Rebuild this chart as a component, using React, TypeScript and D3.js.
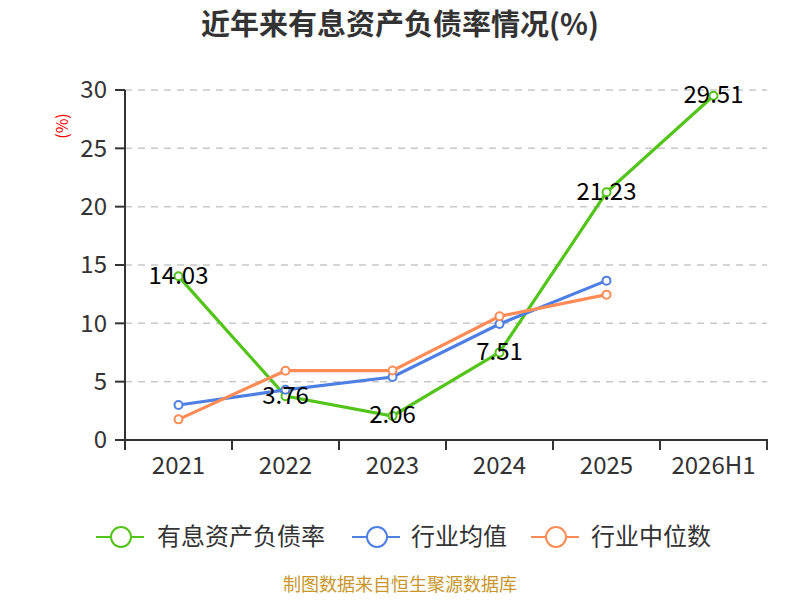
import React from "react";
import * as d3 from "d3";

const categories = ["2021", "2022", "2023", "2024", "2025", "2026H1"];
const debtRatio = [14.03, 3.76, 2.06, 7.51, 21.23, 29.51];
const industryAvg = [3.0, 4.3, 5.4, 9.94, 13.66];
const industryMedian = [1.77, 5.94, 5.95, 10.6, 12.46];
const yTicks = [0, 5, 10, 15, 20, 25, 30];
const seriesNames = ["有息资产负债率", "行业均值", "行业中位数"];
const colors = ["#52c41a", "#4e7fe3", "#ff8c57"];

const FONT = "'Noto Sans CJK SC', 'Noto Sans', sans-serif";

export default function App() {
  const W = 800, H = 600;
  const left = 125, right = 767, top = 90, bottom = 440;
  const x = d3.scaleBand().domain(categories).range([left, right]);
  const y = d3.scaleLinear().domain([0, 30]).range([bottom, top]);
  const cx = (c: string) => (x(c) as number) + x.bandwidth() / 2;

  const series = [debtRatio, industryAvg, industryMedian];
  const line = d3
    .line<[string, number]>()
    .x((d) => cx(d[0]))
    .y((d) => y(d[1]));

  const legendItems = [
    { lx: 96, tx: 157 },
    { lx: 352, tx: 411 },
    { lx: 531, tx: 591 },
  ];

  return (
    <svg width={W} height={H} style={{ position: "absolute", left: 0, top: 0, background: "#fff" }} fontFamily={FONT}>
      <text x={400} y={35} textAnchor="middle" fontSize={29} fontWeight="bold" fill="#333">
        近年来有息资产负债率情况(%)
      </text>
      <text
        transform={`translate(68,126) rotate(-90)`}
        textAnchor="middle"
        fontSize={16}
        fill="#ff0000"
      >
        (%)
      </text>
      {/* grid */}
      {yTicks.filter((t) => t > 0).map((t) => (
        <line key={t} x1={left} x2={right} y1={y(t)} y2={y(t)} stroke="#c8c8c8" strokeWidth={1.5} strokeDasharray="7,6" />
      ))}
      {/* y axis */}
      <line x1={left} x2={left} y1={top} y2={bottom} stroke="#333" strokeWidth={2} />
      {yTicks.map((t) => (
        <g key={t}>
          <line x1={left - 10} x2={left} y1={y(t)} y2={y(t)} stroke="#333" strokeWidth={2} />
          <text x={107} y={y(t)} dy="0.35em" textAnchor="end" fontSize={24} fill="#333">
            {t}
          </text>
        </g>
      ))}
      {/* x axis */}
      <line x1={left} x2={right + 1} y1={bottom} y2={bottom} stroke="#333" strokeWidth={2} />
      {categories.map((c, i) => (
        <line key={"t" + i} x1={x(c) as number} x2={x(c) as number} y1={bottom} y2={bottom + 10} stroke="#333" strokeWidth={2} />
      ))}
      <line x1={right} x2={right} y1={bottom} y2={bottom + 10} stroke="#333" strokeWidth={2} />
      {categories.map((c) => (
        <text key={c} x={cx(c)} y={474} textAnchor="middle" fontSize={24} fill="#333">
          {c}
        </text>
      ))}
      {/* lines */}
      {series.map((s, si) => {
        const pts: [string, number][] = s.map((v, i) => [categories[i], v]);
        return (
          <g key={si}>
            <path d={line(pts) || ""} fill="none" stroke={colors[si]} strokeWidth={3.2} />
            {pts.map((p, i) => (
              <circle key={i} cx={cx(p[0])} cy={y(p[1])} r={4} fill="#fff" stroke={colors[si]} strokeWidth={2} />
            ))}
          </g>
        );
      })}
      {/* data labels */}
      {debtRatio.map((v, i) => (
        <text key={i} x={cx(categories[i])} y={y(v) - 1} dy="0.35em" textAnchor="middle" fontSize={24} fill="#000">
          {v.toFixed(2)}
        </text>
      ))}
      {/* legend */}
      {seriesNames.map((n, i) => (
        <g key={n}>
          <line x1={legendItems[i].lx} x2={legendItems[i].lx + 48} y1={537} y2={537} stroke={colors[i]} strokeWidth={2} />
          <circle cx={legendItems[i].lx + 25} cy={537} r={10} fill="#fff" stroke={colors[i]} strokeWidth={2} />
          <text x={legendItems[i].tx} y={537} dy="0.35em" fontSize={24} fill="#333">
            {n}
          </text>
        </g>
      ))}
      <text x={400} y={591} textAnchor="middle" fontSize={18} fill="#c8962a">
        制图数据来自恒生聚源数据库
      </text>
    </svg>
  );
}
